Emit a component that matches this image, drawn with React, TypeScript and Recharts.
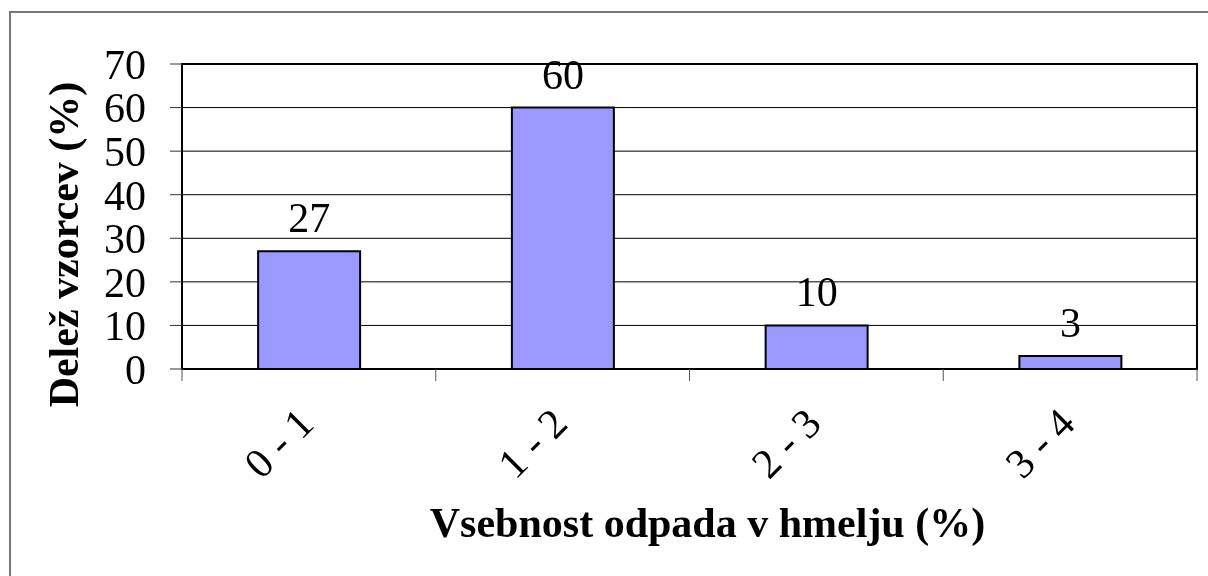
import React from 'react';
import { BarChart, Bar, XAxis, YAxis, CartesianGrid, ReferenceArea, LabelList } from 'recharts';

const categories = ['0 - 1', '1 - 2', '2 - 3', '3 - 4'];
const shares = [27, 60, 10, 3];
const yTicks = [0, 10, 20, 30, 40, 50, 60, 70];
const xTitle = 'Vsebnost odpada v hmelju (%)';
const yTitle = 'Delež vzorcev (%)';

const data = categories.map((c, i) => ({ cat: c, value: shares[i] }));

const FONT = '"Liberation Serif", "Times New Roman", serif';

const CatTick = (props: any) => {
  const { x, y, payload, index, width, visibleTicksCount } = props;
  const n = visibleTicksCount || categories.length;
  const bw = width / n;
  const isLast = index === n - 1;
  return (
    <g>
      <line x1={x - bw / 2} x2={x - bw / 2} y1={y} y2={y + 12} stroke="#555" strokeWidth={1} />
      {isLast && <line x1={x + bw / 2} x2={x + bw / 2} y1={y} y2={y + 12} stroke="#555" strokeWidth={1} />}
      <g transform={`translate(${x + 7},${y + 57})`}>
        <text transform="rotate(-45)" textAnchor="end" fontFamily={FONT} fontSize={42} fill="#000">
          {payload.value}
        </text>
      </g>
    </g>
  );
};

const XTitle = (props: any) => {
  const vb = props.viewBox || {};
  return (
    <text x={vb.x + vb.width / 2 + 18} y={vb.y + vb.height - 39} textAnchor="middle" fontFamily={FONT} fontWeight="bold" fontSize={42} fill="#000">
      {xTitle}
    </text>
  );
};

const YTitle = (props: any) => {
  const vb = props.viewBox || {};
  const cx = 70;
  const cy = vb.y + vb.height / 2 + 28;
  return (
    <text x={cx} y={cy} transform={`rotate(-90, ${cx}, ${cy})`} textAnchor="middle" fontFamily={FONT} fontWeight="bold" fontSize={42} fill="#000">
      {yTitle}
    </text>
  );
};

export default function App() {
  return (
    <div style={{ position: 'relative', width: 1200, height: 568 }}>
      <div style={{ position: 'fixed', left: 9, top: 11, width: 1199, height: 565, boxSizing: 'border-box', borderLeft: '2px solid #777', borderTop: '2px solid #777' }} />
      <div style={{ position: 'relative' }}>
        <BarChart width={1200} height={568} data={data} margin={{ top: 56, right: 11, left: 0, bottom: 0 }} barCategoryGap="30%">
          <CartesianGrid vertical={false} stroke="#000" strokeWidth={1} />
          <XAxis
            dataKey="cat"
            type="category"
            tick={<CatTick />}
            tickLine={false}
            axisLine={{ stroke: '#000', strokeWidth: 2 }}
            tickSize={0}
            tickMargin={0}
            height={207}
            interval={0}
            label={<XTitle />}
          />
          <YAxis
            domain={[0, 70]}
            ticks={yTicks}
            interval={0}
            width={174}
            tickSize={12}
            tickMargin={24}
            tickLine={{ stroke: '#333', strokeWidth: 1 }}
            axisLine={{ stroke: '#000', strokeWidth: 2 }}
            tick={{ fontFamily: FONT, fontSize: 42, fill: '#000' }}
            allowDataOverflow
            label={<YTitle />}
          />
          <ReferenceArea y1={0} y2={70} fill="none" fillOpacity={0} stroke="#000" strokeWidth={2} ifOverflow="visible" />
          <Bar dataKey="value" fill="#9999FF" stroke="#000" strokeWidth={2} isAnimationActive={false}>
            <LabelList dataKey="value" position="top" offset={19} fontFamily={FONT} fontSize={42} fill="#000" />
          </Bar>
        </BarChart>
      </div>
    </div>
  );
}
